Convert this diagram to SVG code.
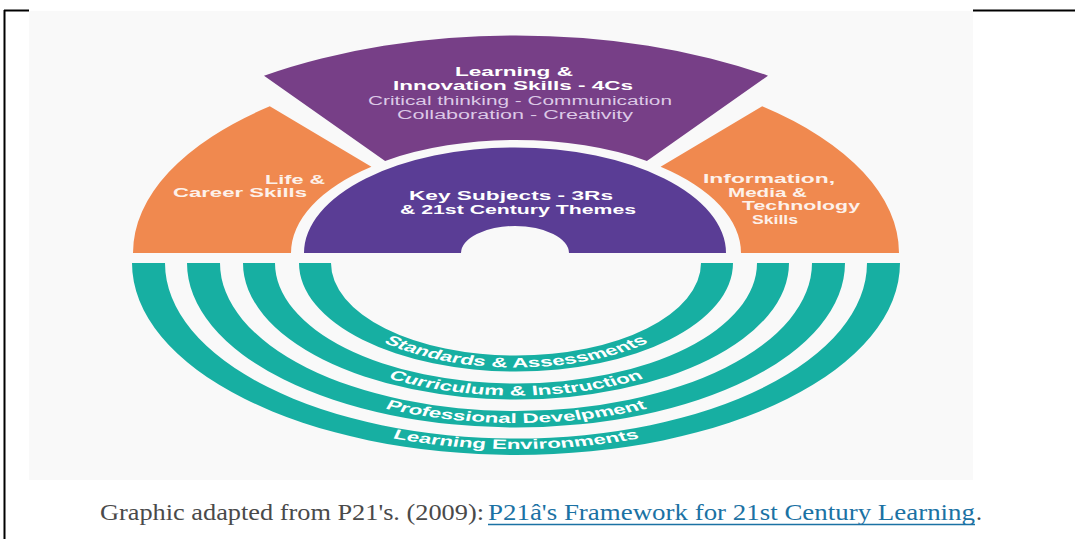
<svg xmlns="http://www.w3.org/2000/svg" width="1075" height="539" viewBox="0 0 1075 539">
  <style>
    .bold { font-family: "Liberation Sans", Arial, sans-serif; font-weight: bold; font-size: 12.5px; fill: #ffffff; }
    .reg { font-family: "Liberation Sans", Arial, sans-serif; font-size: 12.5px; fill: #dcc9e6; }
    .onorange { fill: #fdf1ea; }
    .ring { fill: #17afa2; }
    .ringtext { font-family: "Liberation Sans", Arial, sans-serif; font-weight: bold; font-size: 13.6px; fill: #ffffff; }
    .caption { font-family: "Liberation Serif", "Times New Roman", serif; font-size: 24px; fill: #4a4a4a; }
    .link { fill: #1b72a4; }
  </style>
  <defs>
    <!-- baselines for the ring labels, in a space stretched 1.65x horizontally -->
    <path id="arc-std" d="M -123.6,0 A 123.6 104.5 0 0 0 123.6,0"/>
    <path id="arc-cur" d="M -157.6,0 A 157.6 132.5 0 0 0 157.6,0"/>
    <path id="arc-pro" d="M -191.2,0 A 191.2 160 0 0 0 191.2,0"/>
    <path id="arc-env" d="M -224.5,0 A 224.5 186 0 0 0 224.5,0"/>
  </defs>

  <!-- page frame -->
  <rect x="0" y="0" width="1075" height="539" fill="#ffffff"/>
  <rect x="29" y="11" width="944" height="469" fill="#f9f9f9"/>
  <g stroke="#000" stroke-width="2" fill="none">
    <line x1="4" y1="10.5" x2="29" y2="10.5"/>
    <line x1="973" y1="10.5" x2="1075" y2="10.5"/>
    <line x1="4.5" y1="10" x2="4.5" y2="539"/>
  </g>

  <!-- upper half: wedges drawn on circles squashed to half height -->
  <g id="learning-innovation">
    <path transform="translate(516,253) scale(1,0.5)" fill="#773f87"
          d="M -252,-354.6 A 435 435 0 0 1 252,-354.6 L 130.9,-184.2 A 226 226 0 0 0 -130.9,-184.2 Z"/>
    <text class="bold" x="455" y="76" textLength="118" lengthAdjust="spacingAndGlyphs">Learning &amp;</text>
    <text class="bold" x="393" y="90" textLength="240" lengthAdjust="spacingAndGlyphs">Innovation Skills - 4Cs</text>
    <text class="reg" x="368" y="105" textLength="304" lengthAdjust="spacingAndGlyphs">Critical thinking - Communication</text>
    <text class="reg" x="397" y="119" textLength="236" lengthAdjust="spacingAndGlyphs">Collaboration - Creativity</text>
  </g>

  <g id="life-career">
    <path transform="translate(516,253) scale(1,0.5)" fill="#f0894f"
          d="M -383,0 A 383 383 0 0 1 -246.2,-293.4 L -144.6,-172.4 A 225 225 0 0 0 -225,0 Z"/>
    <text class="bold onorange" x="265" y="184" textLength="60" lengthAdjust="spacingAndGlyphs">Life &amp;</text>
    <text class="bold onorange" x="173" y="197" textLength="134" lengthAdjust="spacingAndGlyphs">Career Skills</text>
  </g>

  <g id="info-media-tech">
    <path transform="translate(516,253) scale(1,0.5)" fill="#f0894f"
          d="M 383,0 A 383 383 0 0 0 246.2,-293.4 L 144.6,-172.4 A 225 225 0 0 1 225,0 Z"/>
    <text class="bold onorange" x="703" y="183" textLength="132" lengthAdjust="spacingAndGlyphs">Information,</text>
    <text class="bold onorange" x="728" y="196.5" textLength="79" lengthAdjust="spacingAndGlyphs">Media &amp;</text>
    <text class="bold onorange" x="742" y="210" textLength="118" lengthAdjust="spacingAndGlyphs">Technology</text>
    <text class="bold onorange" x="752" y="224" textLength="46" lengthAdjust="spacingAndGlyphs">Skills</text>
  </g>

  <g id="key-subjects">
    <path transform="translate(515,253) scale(1,0.5)" fill="#5a3d95"
          d="M -211,0 A 211 211 0 0 1 211,0 L 54,0 A 54 54 0 0 0 -54,0 Z"/>
    <text class="bold" x="409" y="200" textLength="204" lengthAdjust="spacingAndGlyphs">Key Subjects - 3Rs</text>
    <text class="bold" x="400" y="214" textLength="236" lengthAdjust="spacingAndGlyphs">&amp; 21st Century Themes</text>
  </g>

  <!-- lower half: four support systems as concentric bands -->
  <g id="support-rings" transform="translate(516,263) scale(1,0.5)">
    <path id="ring-environments" class="ring" d="M -384,0 A 384 384 0 0 0 384,0 L 351,0 A 351 351 0 0 1 -351,0 Z"/>
    <path id="ring-development" class="ring" d="M -329,0 A 329 329 0 0 0 329,0 L 296,0 A 296 296 0 0 1 -296,0 Z"/>
    <path id="ring-curriculum" class="ring" d="M -273,0 A 273 273 0 0 0 273,0 L 241,0 A 241 241 0 0 1 -241,0 Z"/>
    <path id="ring-standards" class="ring" d="M -217,0 A 217 217 0 0 0 217,0 L 185,0 A 185 185 0 0 1 -185,0 Z"/>
  </g>
  <g id="ring-labels" transform="translate(516,263) scale(1.65,1)">
    <text class="ringtext" text-anchor="middle"><textPath href="#arc-std" startOffset="50%">Standards &amp; Assessments</textPath></text>
    <text class="ringtext" text-anchor="middle"><textPath href="#arc-cur" startOffset="50%">Curriculum &amp; Instruction</textPath></text>
    <text class="ringtext" text-anchor="middle"><textPath href="#arc-pro" startOffset="50%">Professional Develpment</textPath></text>
    <text class="ringtext" text-anchor="middle"><textPath href="#arc-env" startOffset="50%">Learning Environments</textPath></text>
  </g>

  <!-- caption -->
  <g id="caption">
    <text class="caption" x="100" y="520" textLength="384" lengthAdjust="spacingAndGlyphs">Graphic adapted from P21's. (2009):</text>
    <text class="caption link" x="488" y="520" textLength="487" lengthAdjust="spacingAndGlyphs">P21â's Framework for 21st Century Learning</text>
    <line x1="488" y1="524.5" x2="975" y2="524.5" stroke="#1b72a4" stroke-width="1.5"/>
    <text class="caption" x="976" y="520">.</text>
  </g>
</svg>
